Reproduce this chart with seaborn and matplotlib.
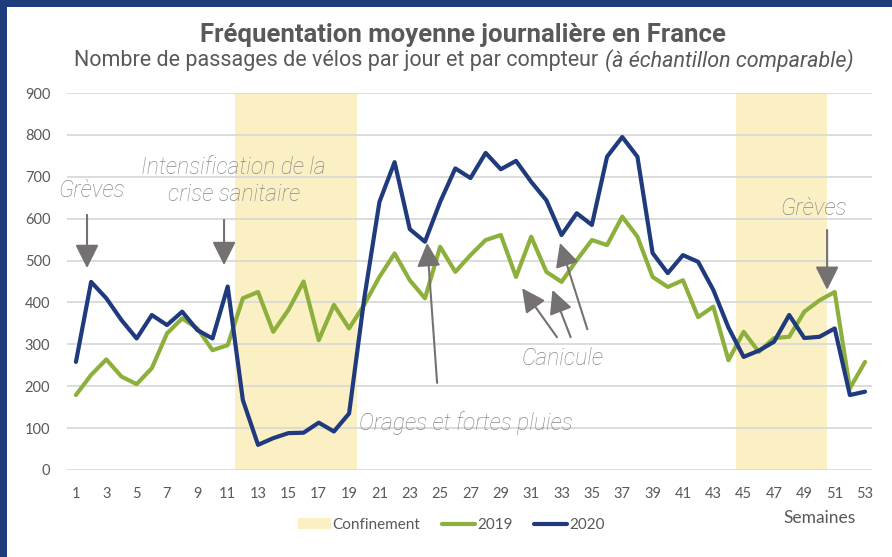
import pandas as pd
import matplotlib.pyplot as plt
import seaborn as sns
from matplotlib.patches import Patch, Rectangle
from matplotlib.lines import Line2D

# ==============================
# Données
# ==============================
semaines = list(range(1, 54))

passages_2019 = [179, 227, 264, 223, 205, 243, 326, 362, 338, 286,
                 298, 410, 425, 330, 382, 450, 310, 394, 338, 395,
                 461, 517, 453, 410, 533, 473, 513, 549, 561, 461,
                 557, 473, 449, 501, 549, 537, 605, 557, 461, 437,
                 453, 365, 390, 262, 330, 282, 315, 318, 378, 405,
                 425, 195, 258]

passages_2020 = [258, 449, 410, 358, 314, 370, 346, 378, 334, 314,
                 438, 167, 60, 76, 88, 89, 113, 92, 135, 410,
                 640, 735, 575, 545, 640, 720, 697, 757, 718, 738,
                 688, 644, 561, 613, 585, 748, 795, 748, 518, 470,
                 513, 497, 430, 340, 270, 285, 306, 370, 315, 318,
                 338, 179, 187]

confinements = [(11.5, 19.5), (44.5, 50.5)]
yticks = [0, 100, 200, 300, 400, 500, 600, 700, 800, 900]
xticks = list(range(1, 54, 2))

df = pd.DataFrame({
    "semaine": semaines * 2,
    "passages": passages_2019 + passages_2020,
    "annee": ["2019"] * len(semaines) + ["2020"] * len(semaines),
})

VERT = "#8db03c"
BLEU = "#1f3a7d"
JAUNE = "#fbefc4"
GRIS_TXT = "#595959"
GRIS_ANN = "#888888"
GRIS_FLECHE = "#767171"

# ==============================
# Figure
# ==============================
sns.set_theme(style="white")
plt.rcParams["font.family"] = ["Lato", "DejaVu Sans"]

fig = plt.figure(figsize=(8.92, 5.57), dpi=100)
ax = fig.add_axes([0.0751, 0.1562, 0.9025, 0.6768])

for debut, fin in confinements:
    ax.axvspan(debut, fin, color=JAUNE, lw=0, zorder=0)

sns.lineplot(
    data=df,
    x="semaine",
    y="passages",
    hue="annee",
    palette={"2019": VERT, "2020": BLEU},
    linewidth=3,
    legend=False,
    ax=ax,
)
for ln in ax.lines:
    ln.set_solid_joinstyle("round")
    ln.set_solid_capstyle("round")

ax.set_xlim(0.41, 53.46)
ax.set_ylim(0, 900)
ax.set_xticks(xticks)
ax.set_yticks(yticks)
ax.set_xlabel("")
ax.set_ylabel("")
ax.set_axisbelow(True)
ax.grid(axis="y", color="#d9d9d9", lw=1.3)
ax.grid(axis="x", visible=False)
sns.despine(ax=ax, left=True, bottom=True)
ax.tick_params(axis="both", length=0, labelsize=10.5, colors=GRIS_TXT)
ax.tick_params(axis="y", pad=12)
ax.tick_params(axis="x", pad=12)

# ==============================
# Annotations
# ==============================
fleche = dict(arrowstyle="-|>,head_length=0.9,head_width=0.45",
              color=GRIS_FLECHE, lw=1.5, mutation_scale=16,
              shrinkA=0, shrinkB=0)
style_ann = dict(color=GRIS_ANN, fontsize=16.5, style="italic",
                 family=["Roboto", "DejaVu Sans"], fontweight="light",
                 ha="center", va="center")

ax.annotate("", xy=(1.73, 482), xytext=(1.73, 609), arrowprops=fleche)
ax.text(2.05, 668, "Grèves", **style_ann)

ax.annotate("", xy=(10.76, 489), xytext=(10.76, 597), arrowprops=fleche)
ax.text(11.4, 690, "Intensification de la\ncrise sanitaire",
        linespacing=1.25, **style_ann)

ax.annotate("", xy=(24.14, 542), xytext=(24.8, 208), arrowprops=fleche)
ax.text(26.7, 112, "Orages et fortes pluies", **style_ann)

ax.annotate("", xy=(30.4, 434), xytext=(32.7, 317), arrowprops=fleche)
ax.annotate("", xy=(32.4, 430), xytext=(33.6, 317), arrowprops=fleche)
ax.annotate("", xy=(32.9, 542), xytext=(34.7, 336), arrowprops=fleche)
ax.text(33.1, 267, "Canicule", **style_ann)

ax.annotate("", xy=(50.5, 430), xytext=(50.5, 573), arrowprops=fleche)
ax.text(49.6, 625, "Grèves", **style_ann)

# ==============================
# Titres
# ==============================
fig.text(0.519, 0.938, "Fréquentation moyenne journalière en France",
         ha="center", va="center", fontsize=18.5, fontweight="bold",
         family=["Roboto", "DejaVu Sans"], color=GRIS_TXT)

fig.canvas.draw()
rend = fig.canvas.get_renderer()
y_sous = 0.892
t1 = fig.text(0, y_sous, "Nombre de passages de vélos par jour et par compteur",
              ha="left", va="center", fontsize=15.5,
              family=["Roboto", "DejaVu Sans"], color=GRIS_TXT)
t2 = fig.text(0, y_sous, "(à échantillon comparable)", ha="left", va="center",
              fontsize=15.5, style="italic",
              family=["Roboto", "DejaVu Sans"], color=GRIS_TXT)
W = fig.bbox.width
w1 = t1.get_window_extent(rend).width
w2 = t2.get_window_extent(rend).width
gap = 6
x0 = 0.52 * W - (w1 + gap + w2) / 2
t1.set_x(x0 / W)
t2.set_x((x0 + w1 + gap) / W)

fig.text(820 / 892, 1 - 518 / 557, "Semaines", ha="center", va="center",
         fontsize=12.5, color=GRIS_TXT)

# ==============================
# Légende
# ==============================
handles = [
    Patch(facecolor=JAUNE, edgecolor="none"),
    Line2D([0], [0], color=VERT, lw=3, solid_capstyle="round"),
    Line2D([0], [0], color=BLEU, lw=3, solid_capstyle="round"),
]
fig.legend(handles, ["Confinement", "2019", "2020"], loc="center",
           bbox_to_anchor=(451 / 892, 1 - 525 / 557), ncol=3, frameon=False,
           handlelength=2.2, handletextpad=0.1, columnspacing=1.4,
           fontsize=11, labelcolor=GRIS_TXT)

# cadre bleu (haut et gauche)
fig.patches.append(Rectangle((0, 0), 7 / 892, 1, transform=fig.transFigure,
                             facecolor="#1f3d7c", edgecolor="none"))
fig.patches.append(Rectangle((0, 1 - 7 / 557), 1, 7 / 557,
                             transform=fig.transFigure,
                             facecolor="#1f3d7c", edgecolor="none"))

plt.savefig("out.png", dpi=100)
plt.close()
